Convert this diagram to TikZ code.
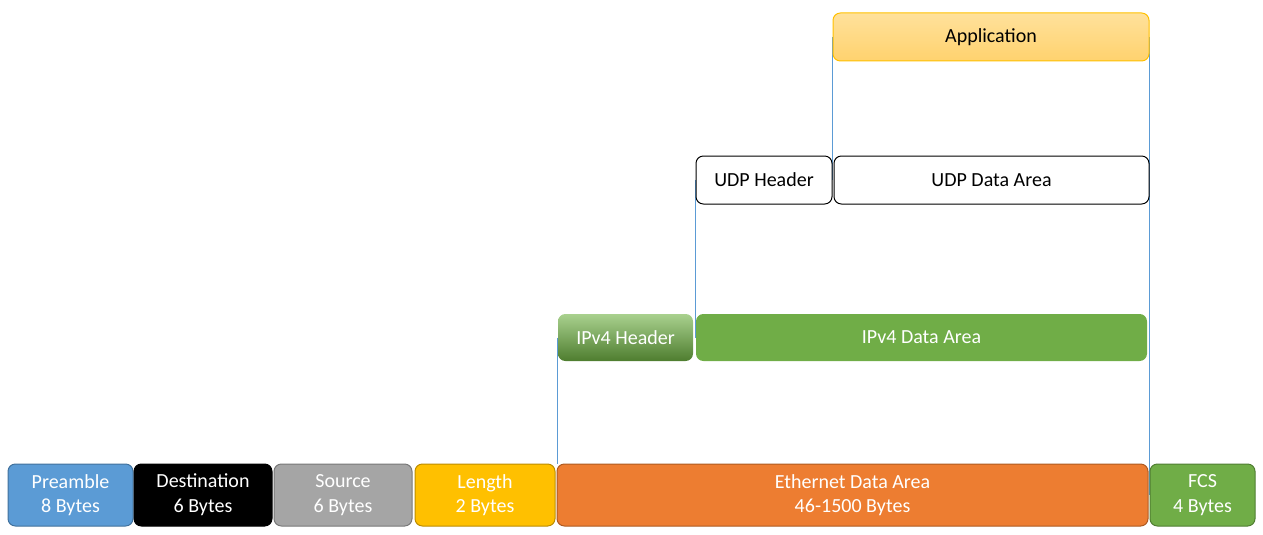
\documentclass[tikz,border=0pt]{standalone}
\usepackage{fontspec}
\setmainfont{Carlito}
\usetikzlibrary{backgrounds}

\definecolor{preblue}{RGB}{91,155,213}
\definecolor{preline}{RGB}{65,113,156}
\definecolor{srcgray}{RGB}{165,165,165}
\definecolor{srcline}{RGB}{120,120,120}
\definecolor{lenyel}{RGB}{255,192,0}
\definecolor{lenline}{RGB}{188,140,0}
\definecolor{ethorange}{RGB}{237,125,49}
\definecolor{ethline}{RGB}{174,90,33}
\definecolor{fcsgreen}{RGB}{112,173,71}
\definecolor{fcsline}{RGB}{80,126,50}
\definecolor{iplight}{RGB}{169,209,142}
\definecolor{ipdark}{RGB}{78,125,47}
\definecolor{apptop}{RGB}{255,225,155}
\definecolor{appbot}{RGB}{255,210,110}

\tikzset{every picture/.style={line width=0.75pt},
  field/.style 2 args={rectangle, rounded corners=5.5, line width=0.75pt,
    minimum width=#1*0.75pt, minimum height=#2*0.75pt, inner sep=0pt,
    align=center, font=\fontsize{15}{18.5}\selectfont},
  guide/.style={draw=preblue, line width=0.6pt}}

\begin{document}
\begin{tikzpicture}[x=0.75pt,y=0.75pt,yscale=-1,xscale=1]
\useasboundingbox (0,0) rectangle (1263,535);

%Shape: Ethernet frame
\node [field={125}{62}, fill=preblue, draw=preline, text=white] (pre) at (70.5,495) {Preamble\\8 Bytes};
\node [field={138}{62}, fill=black, draw=black, text=white] (dst) at (203,495) {Destination\\6 Bytes};
\node [field={138}{62}, fill=srcgray, draw=srcline, text=white] (src) at (343,495) {Source\\6 Bytes};
\node [field={140}{62}, fill=lenyel, draw=lenline, text=white] (len) at (485,495) {Length\\2 Bytes};
\node [field={591}{62}, fill=ethorange, draw=ethline, text=white] (eth) at (852.5,495) {Ethernet Data Area\\46-1500 Bytes};
\node [field={105}{62}, fill=fcsgreen, draw=fcsline, text=white] (fcs) at (1202.5,495) {FCS\\4 Bytes};

%Shape: IPv4 packet
\node [field={135}{47}, top color=iplight, bottom color=ipdark, text=white] (iph) at (625.5,337.5) {IPv4 Header};
\node [field={451}{47}, fill=fcsgreen, text=white] (ipd) at (921.5,337.5) {IPv4 Data Area};

%Shape: UDP datagram
\node [field={136}{48}, fill=white, draw=black] (udph) at (764,180) {UDP Header};
\node [field={315}{48}, fill=white, draw=black] (udpd) at (991.5,180) {UDP Data Area};

%Shape: Application
\node [field={316}{48}, top color=apptop, bottom color=appbot, draw=lenyel] (app) at (991,37) {Application};

%Straight Lines
\begin{scope}[on background layer]
\draw [guide] (iph.west) -- (eth.north west -| iph.west);
\draw [guide] (udph.west) -- (ipd.west -| udph.west);
\draw [guide] (app.west) -- (udpd.west -| app.west);
\draw [guide] (app.east) -- (eth.east -| app.east);
\end{scope}

\end{tikzpicture}
\end{document}
